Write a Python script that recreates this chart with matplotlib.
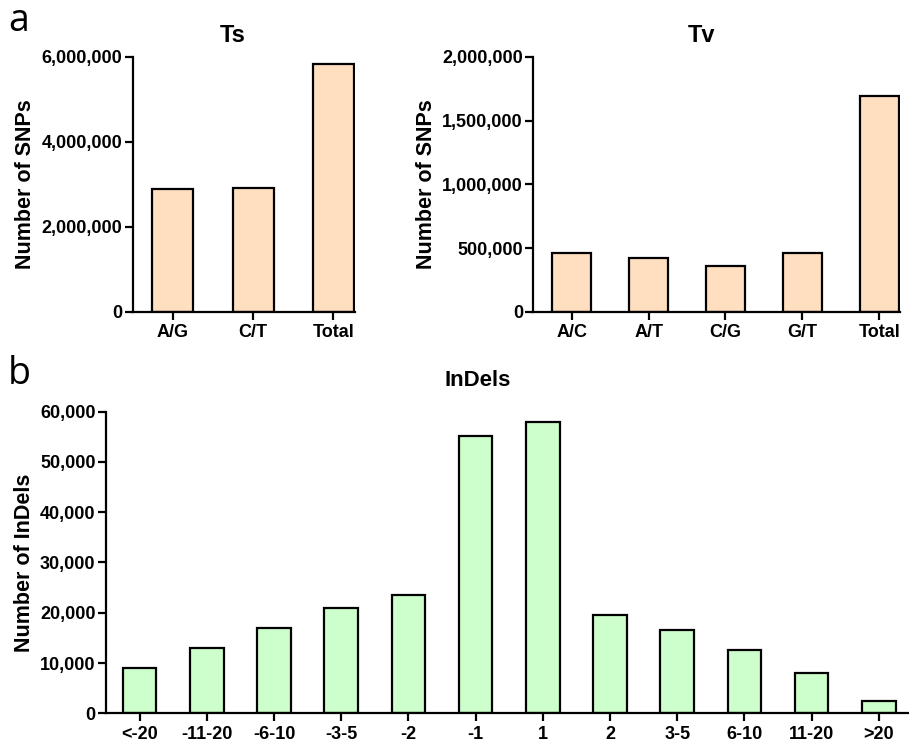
import matplotlib.pyplot as plt
from matplotlib.ticker import FuncFormatter

ts_labels = ["A/G", "C/T", "Total"]
ts_values = [2900000, 2918000, 5822000]

tv_labels = ["A/C", "A/T", "C/G", "G/T", "Total"]
tv_values = [461000, 422000, 357000, 461000, 1695000]

indel_labels = ["<-20", "-11-20", "-6-10", "-3-5", "-2", "-1", "1", "2", "3-5", "6-10", "11-20", ">20"]
indel_values = [9000, 13000, 17000, 21000, 23500, 55200, 58000, 19500, 16500, 12500, 8000, 2400]

snp_color = "#ffdfbf"
indel_color = "#ccffcc"

plt.rcParams['font.family'] = ['Liberation Sans', 'DejaVu Sans']
plt.rcParams['font.weight'] = 'bold'

fig = plt.figure(figsize=(9.09, 7.41), dpi=100)

comma = FuncFormatter(lambda v, p: f"{int(v):,}")


def style_axes(ax, labels, ylim, yticks, ylabel, xmax):
    for s in ['top', 'right']:
        ax.spines[s].set_visible(False)
    for s in ['left', 'bottom']:
        ax.spines[s].set_linewidth(1.6)
    ax.set_xticks(range(len(labels)))
    ax.set_xticklabels(labels, fontsize=13, fontweight='bold')
    ax.set_yticks(yticks)
    ax.yaxis.set_major_formatter(comma)
    ax.set_ylim(*ylim)
    ax.set_xlim(-0.5, xmax)
    ax.tick_params(axis='both', width=1.6, length=6, labelsize=13, pad=1.5)
    ax.tick_params(axis='x', pad=3)
    for t in ax.get_yticklabels():
        t.set_fontweight('bold')
    ax.set_ylabel(ylabel, fontsize=15.5, fontweight='bold', labelpad=4)


ax1 = fig.add_axes([0.146, 0.579, 0.2445, 0.3445])
ax1.bar(range(len(ts_labels)), ts_values, width=0.51, color=snp_color, edgecolor='black', linewidth=1.6)
style_axes(ax1, ts_labels, (0, 6000000), [0, 2000000, 4000000, 6000000], "Number of SNPs", 2.27)

ax2 = fig.add_axes([0.5867, 0.579, 0.4034, 0.3445])
ax2.bar(range(len(tv_labels)), tv_values, width=0.51, color=snp_color, edgecolor='black', linewidth=1.6)
style_axes(ax2, tv_labels, (0, 2000000), [0, 500000, 1000000, 1500000, 2000000], "Number of SNPs", 4.27)

ax3 = fig.add_axes([0.1166, 0.0374, 0.882, 0.407])
ax3.bar(range(len(indel_labels)), indel_values, width=0.5, color=indel_color, edgecolor='black', linewidth=1.6)
style_axes(ax3, indel_labels, (0, 60000), range(0, 60001, 10000), "Number of InDels", 11.43)

fig.text(233 / 909, 1 - 35 / 741, "Ts", ha='center', va='center', fontsize=17, fontweight='bold')
fig.text(702 / 909, 1 - 35 / 741, "Tv", ha='center', va='center', fontsize=17, fontweight='bold')
fig.text(478 / 909, 1 - 381 / 741, "InDels", ha='center', va='center', fontsize=16, fontweight='bold')

fig.text(8 / 909, 1 - 21 / 741, "a", ha='left', va='center', fontsize=27, fontweight='normal', family='Open Sans')
fig.text(8 / 909, 1 - 374 / 741, "b", ha='left', va='center', fontsize=27, fontweight='normal', family='Open Sans')

fig.savefig("out.png", dpi=100)
